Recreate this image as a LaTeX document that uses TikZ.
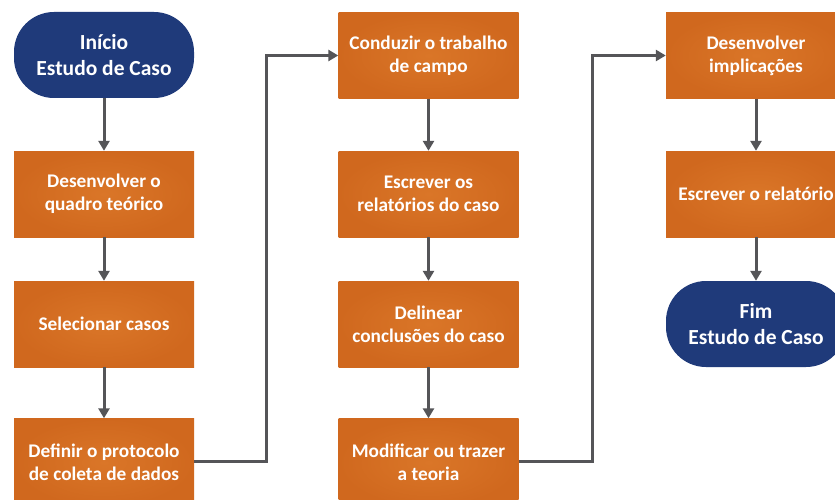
\documentclass[tikz,border=0pt]{standalone}
\usepackage{fontspec}
\setmainfont{Carlito}
\usetikzlibrary{arrows.meta}
\definecolor{boxorange}{RGB}{208,104,30}
\definecolor{boxorangeL}{RGB}{218,118,40}
\definecolor{termblue}{RGB}{31,58,122}
\definecolor{arrowgray}{RGB}{85,85,88}
\tikzset{
  stepbox/.style={rectangle, draw=none, inner color=boxorangeL, outer color=boxorange,
    minimum width=180pt, minimum height=86pt, inner sep=0pt, align=center, text=white,
    font=\bfseries\fontsize{19.3}{23}\selectfont},
  lastbox/.style={stepbox, minimum height=88pt},
  termbox/.style={rectangle, rounded corners=40pt, fill=termblue, draw=none,
    minimum width=180pt, minimum height=86pt, inner sep=0pt, align=center, text=white,
    font=\bfseries\fontsize{21.5}{26}\selectfont},
  flow/.style={draw=arrowgray, line width=3pt, -{Triangle[length=10pt,width=11pt]}}
}
\begin{document}
\begin{tikzpicture}[x=1pt,y=-1pt]
\useasboundingbox (0,0) rectangle (835,500);
\clip (0,0) rectangle (835,500);
\fill[white] (0,0) rectangle (835,500);
% column 1
\node[termbox] (a1) at (104,55) {Início\\Estudo de Caso};
\node[stepbox] (a2) at (104,194) {Desenvolver o\\quadro teórico};
\node[stepbox] (a3) at (104,324) {Selecionar casos};
\node[lastbox] (a4) at (104,462.5) {Definir o protocolo\\de coleta de dados};
% column 2
\node[stepbox] (b1) at (428.5,55.5) {Conduzir o trabalho\\de campo};
\node[stepbox] (b2) at (428.5,194) {Escrever os\\relatórios do caso};
\node[stepbox] (b3) at (428.5,324) {Delinear\\conclusões do caso};
\node[lastbox] (b4) at (428.5,462.5) {Modificar ou trazer\\a teoria};
% column 3
\node[stepbox] (c1) at (756,55.5) {Desenvolver\\implicações};
\node[stepbox] (c2) at (756,194) {Escrever o relatório};
\node[termbox] (c3) at (756,324) {Fim\\Estudo de Caso};
% connectors
\draw[flow] (a1) -- (a2);
\draw[flow] (a2) -- (a3);
\draw[flow] (a3) -- (a4);
\draw[flow] (b1) -- (b2);
\draw[flow] (b2) -- (b3);
\draw[flow] (b3) -- (b4);
\draw[flow] (c1) -- (c2);
\draw[flow] (c2) -- (c3);
\coordinate (j1) at (266,461);
\coordinate (j2) at (592,461);
\draw[flow] (a4.east |- j1) -- (j1) |- (b1.west);
\draw[flow] (b4.east |- j2) -- (j2) |- (c1.west);
\end{tikzpicture}
\end{document}
